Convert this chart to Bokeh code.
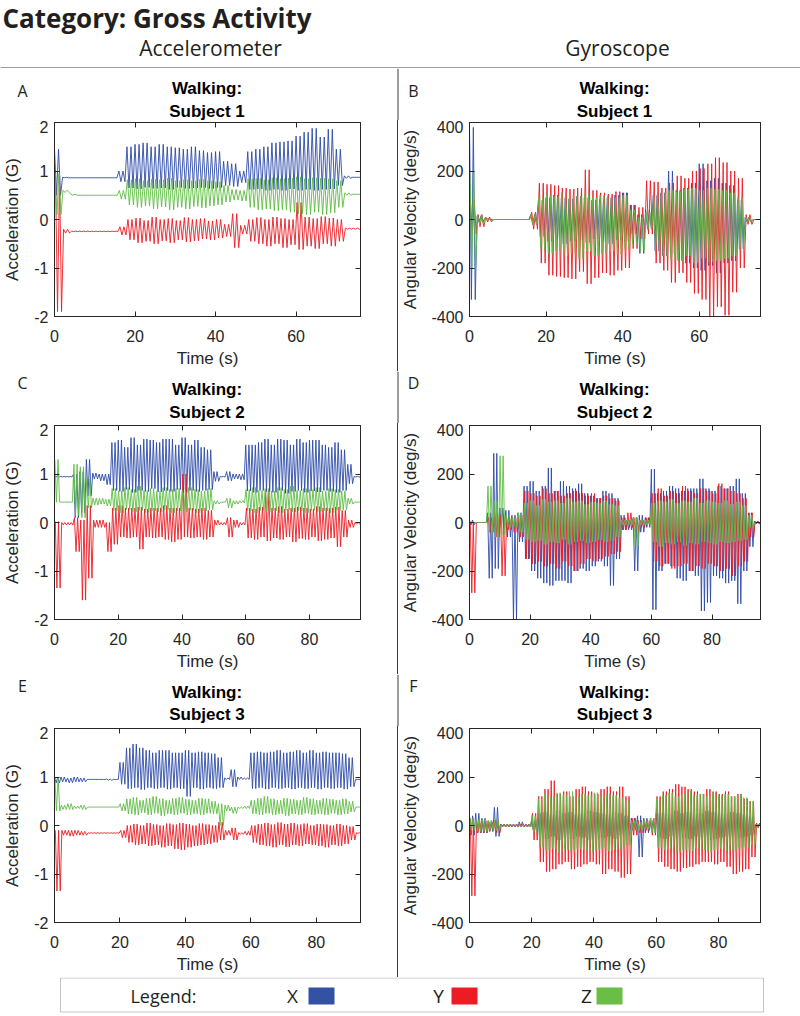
from bokeh.plotting import figure
from bokeh.layouts import column, row
from bokeh.models import Label, Range1d, FixedTicker, LinearAxis, Span, BoxAnnotation, Spacer
from bokeh.embed import file_html
from bokeh.resources import INLINE

BLUE, RED, GREEN = "#2E4BA8", "#EC1C24", "#5FBD45"
SQ_BLUE, SQ_RED, SQ_GREEN = "#3452A4", "#ED1C24", "#6ABD45"
AXC = "#262626"
RULE = "#3a3a3a"
TICK_FONT = "Liberation Sans"
HDR_FONT = "Open Sans"

# ---------------- tick values ----------------
X_TICKS_A = [0, 20, 40, 60]
X_TICKS_C = [0, 20, 40, 60, 80]
ACC_TICKS = [-2, -1, 0, 1, 2]
GYR_TICKS = [-400, -200, 0, 200, 400]
X_MAX = {"A": 76, "C": 96, "E": 93.5}
BIN = 2.0  # seconds per envelope bin (upper / lower peak read per bin)

# ---------------- Panel A: accelerometer, subject 1 (G) ----------------
A_X_hi = [1.45, 0.87, 0.86, 0.86, 0.86, 0.86, 0.86, 0.86, 1.0, 1.5, 1.55, 1.58, 1.5, 1.55, 1.5, 1.48, 1.45, 1.5, 1.42, 1.38, 1.4, 1.2, 1.15, 1.0, 1.4, 1.45, 1.5, 1.58, 1.6, 1.62, 1.72, 1.8, 1.88, 1.7, 1.86, 1.45, 0.9, 0.87]
A_X_lo = [0.5, 0.86, 0.86, 0.86, 0.86, 0.86, 0.86, 0.86, 0.78, 0.65, 0.63, 0.66, 0.64, 0.65, 0.62, 0.66, 0.64, 0.65, 0.66, 0.64, 0.66, 0.7, 0.68, 0.76, 0.62, 0.63, 0.6, 0.62, 0.6, 0.63, 0.6, 0.62, 0.6, 0.62, 0.63, 0.7, 0.85, 0.87]
A_Y_hi = [0.9, -0.2, -0.24, -0.24, -0.24, -0.24, -0.24, -0.24, -0.15, 0.0, 0.03, -0.02, 0.05, 0.0, 0.02, -0.02, 0.04, 0.0, 0.02, -0.03, 0.0, -0.1, 0.12, -0.12, 0.0, 0.04, 0.0, 0.05, 0.02, 0.0, 0.35, 0.05, 0.02, 0.06, 0.03, 0.0, -0.18, -0.18]
A_Y_lo = [-1.9, -0.28, -0.25, -0.25, -0.25, -0.25, -0.25, -0.25, -0.32, -0.42, -0.48, -0.45, -0.5, -0.44, -0.48, -0.42, -0.46, -0.44, -0.4, -0.42, -0.38, -0.35, -0.58, -0.3, -0.45, -0.5, -0.55, -0.5, -0.58, -0.52, -0.62, -0.55, -0.6, -0.5, -0.55, -0.45, -0.2, -0.2]
A_Z_hi = [0.95, 0.6, 0.52, 0.5, 0.5, 0.5, 0.5, 0.5, 0.6, 0.82, 0.84, 0.8, 0.83, 0.82, 0.85, 0.8, 0.82, 0.8, 0.83, 0.8, 0.78, 0.7, 0.62, 0.6, 0.84, 0.85, 0.82, 0.86, 0.84, 0.85, 0.88, 0.84, 0.86, 0.85, 0.84, 0.8, 0.55, 0.52]
A_Z_lo = [0.1, 0.56, 0.5, 0.5, 0.5, 0.5, 0.5, 0.5, 0.42, 0.3, 0.25, 0.28, 0.22, 0.26, 0.2, 0.25, 0.22, 0.27, 0.24, 0.28, 0.3, 0.36, 0.4, 0.38, 0.25, 0.2, 0.22, 0.18, 0.2, 0.15, 0.12, 0.1, 0.15, 0.1, 0.14, 0.25, 0.5, 0.52]

# ---------------- Panel B: gyroscope, subject 1 (deg/s) ----------------
B_X_hi = [380, 15, 5, 0, 0, 0, 0, 0, 20, 80, 90, 100, 90, 85, 95, 90, 80, 85, 90, 100, 110, 60, 20, 40, 100, 110, 200, 120, 130, 150, 230, 160, 170, 150, 140, 80, 10, 0]
B_X_lo = [-330, -10, 0, 0, 0, 0, 0, 0, -20, -70, -90, -80, -100, -90, -85, -95, -80, -90, -100, -85, -90, -60, -140, -40, -130, -150, -140, -170, -180, -200, -210, -190, -220, -180, -170, -120, -10, 0]
B_Y_hi = [80, 20, 10, 0, 0, 0, 0, 0, 30, 150, 145, 140, 130, 125, 130, 205, 120, 110, 105, 115, 110, 60, 50, 160, 155, 130, 150, 180, 170, 200, 210, 230, 255, 235, 200, 170, 20, 0]
B_Y_lo = [-60, -30, -10, 0, 0, 0, 0, 0, -40, -180, -230, -235, -240, -245, -215, -265, -240, -220, -230, -210, -200, -120, -80, -60, -180, -210, -260, -220, -260, -305, -330, -400, -360, -395, -300, -200, -20, 0]
B_Z_hi = [200, 20, 5, 0, 0, 0, 0, 0, 20, 90, 100, 95, 110, 100, 95, 105, 90, 100, 95, 90, 100, 40, 10, 30, 100, 110, 120, 115, 125, 130, 120, 130, 125, 120, 110, 90, 10, 0]
B_Z_lo = [-200, -20, -5, 0, 0, 0, 0, 0, -20, -120, -140, -130, -150, -140, -160, -130, -150, -140, -130, -145, -120, -100, -130, -40, -140, -150, -160, -170, -150, -180, -160, -175, -170, -160, -150, -120, -10, 0]

# ---------------- Panel C: accelerometer, subject 2 (G) ----------------
C_X_hi = [0.97, 0.95, 0.95, 1.0, 1.05, 1.3, 1.02, 1.0, 1.0, 1.65, 1.7, 1.55, 1.75, 1.6, 1.72, 1.7, 1.65, 1.72, 1.72, 1.6, 1.75, 1.6, 1.7, 1.55, 1.5, 1.05, 0.95, 1.05, 1.0, 1.0, 1.6, 1.6, 1.65, 1.72, 1.6, 1.72, 1.7, 1.6, 1.72, 1.65, 1.7, 1.7, 1.6, 1.55, 1.65, 1.5, 1.2, 0.95]
C_X_lo = [0.94, 0.94, 0.94, 0.1, 0.2, 0.55, 0.9, 0.86, 0.78, 0.66, 0.64, 0.68, 0.62, 0.66, 0.64, 0.7, 0.63, 0.66, 0.64, 0.68, 0.62, 0.66, 0.64, 0.66, 0.68, 0.85, 0.94, 0.86, 0.9, 0.88, 0.65, 0.62, 0.66, 0.64, 0.62, 0.66, 0.6, 0.64, 0.66, 0.62, 0.65, 0.63, 0.66, 0.64, 0.62, 0.66, 0.8, 0.94]
C_Y_hi = [0.02, 0.0, 0.0, 0.1, 0.05, 0.35, 0.05, 0.05, 0.0, 0.3, 0.35, 0.3, 0.3, 0.32, 0.28, 0.3, 0.3, 0.35, 0.3, 0.3, 1.0, 0.3, 0.28, 0.3, 0.25, 0.05, 0.0, 0.1, 0.05, 0.0, 0.3, 0.28, 0.32, 0.65, 0.3, 0.33, 0.28, 0.3, 0.32, 0.3, 0.28, 0.33, 0.3, 0.3, 0.32, 0.25, 0.05, 0.0]
C_Y_lo = [-1.35, -0.05, -0.05, -0.6, -1.6, -1.15, -0.1, -0.1, -0.6, -0.45, -0.3, -0.32, -0.3, -0.55, -0.3, -0.32, -0.3, -0.35, -0.4, -0.35, -0.3, -0.32, -0.3, -0.35, -0.3, -0.05, -0.05, -0.3, -0.1, -0.05, -0.32, -0.35, -0.3, -0.38, -0.32, -0.35, -0.3, -0.4, -0.33, -0.35, -0.3, -0.38, -0.35, -0.32, -0.5, -0.3, -0.1, -0.03]
C_Z_hi = [1.3, 0.42, 0.42, 1.2, 1.15, 0.9, 0.5, 0.5, 0.48, 0.7, 0.65, 0.72, 0.68, 0.75, 0.66, 0.7, 0.64, 0.72, 0.68, 0.7, 0.66, 0.72, 0.68, 0.65, 0.7, 0.45, 0.42, 0.5, 0.45, 0.45, 0.68, 0.72, 0.66, 0.7, 0.65, 0.72, 0.68, 0.75, 0.66, 0.7, 0.68, 0.72, 0.65, 0.7, 0.68, 0.65, 0.5, 0.42]
C_Z_lo = [0.42, 0.42, 0.42, 0.15, 0.1, 0.3, 0.36, 0.38, 0.34, 0.24, 0.2, 0.26, 0.22, 0.25, 0.2, 0.24, 0.22, 0.26, 0.2, 0.24, 0.22, 0.25, 0.2, 0.24, 0.26, 0.38, 0.42, 0.3, 0.38, 0.4, 0.24, 0.2, 0.25, 0.22, 0.24, 0.2, 0.26, 0.22, 0.24, 0.2, 0.25, 0.22, 0.24, 0.2, 0.25, 0.26, 0.38, 0.42]

# ---------------- Panel D: gyroscope, subject 2 (deg/s) ----------------
D_X_hi = [10, 0, 0, 40, 285, 60, 50, 30, 40, 150, 170, 130, 150, 225, 130, 170, 150, 140, 160, 120, 110, 100, 130, 120, 100, 30, 10, 20, 30, 20, 220, 120, 130, 150, 140, 130, 140, 140, 180, 140, 130, 150, 140, 150, 180, 120, 40, 5]
D_X_lo = [-10, 0, 0, -230, -190, -20, -60, -400, -80, -150, -200, -230, -250, -260, -240, -240, -250, -200, -190, -200, -180, -160, -180, -260, -150, -30, -30, -200, -40, -20, -360, -200, -170, -180, -230, -240, -200, -220, -365, -330, -220, -230, -250, -240, -335, -200, -100, -5]
D_Y_hi = [0, 0, 0, 20, 40, 30, 20, 20, 30, 130, 120, 110, 140, 120, 130, 110, 120, 130, 120, 110, 120, 100, 110, 100, 90, 20, 40, 20, 10, 20, 120, 140, 110, 130, 120, 150, 130, 120, 140, 130, 120, 160, 140, 130, 120, 100, 40, 5]
D_Y_lo = [-290, 0, 0, -40, -60, -220, -30, -40, -60, -150, -170, -160, -180, -170, -190, -160, -180, -200, -170, -150, -160, -150, -140, -130, -120, -30, -20, -40, -20, -10, -160, -180, -170, -190, -180, -170, -200, -180, -190, -170, -180, -200, -190, -220, -180, -160, -60, -5]
D_Z_hi = [0, 0, 0, 150, 90, 275, 30, 20, 40, 80, 90, 70, 95, 85, 90, 80, 100, 85, 90, 75, 85, 80, 90, 75, 70, 10, 10, 20, 10, 10, 80, 90, 85, 95, 80, 90, 85, 100, 80, 90, 85, 80, 90, 75, 85, 70, 30, 0]
D_Z_lo = [0, 0, 0, -40, -60, -50, -20, -20, -40, -70, -80, -75, -90, -80, -85, -70, -90, -80, -75, -85, -80, -70, -80, -75, -60, -10, -10, -95, -10, -10, -80, -100, -85, -90, -80, -95, -85, -90, -80, -85, -90, -80, -85, -80, -75, -70, -20, 0]

# ---------------- Panel E: accelerometer, subject 3 (G) ----------------
E_X_hi = [1.0, 1.0, 0.98, 1.0, 0.98, 0.95, 0.95, 0.95, 0.96, 0.95, 1.3, 1.6, 1.68, 1.6, 1.55, 1.5, 1.55, 1.55, 1.5, 1.5, 1.55, 1.5, 1.52, 1.5, 1.48, 1.4, 0.98, 1.15, 1.0, 0.98, 1.5, 1.52, 1.5, 1.52, 1.55, 1.5, 1.52, 1.55, 1.5, 1.55, 1.5, 1.52, 1.5, 1.5, 1.48, 1.4, 0.95]
E_X_lo = [0.88, 0.9, 0.88, 0.9, 0.9, 0.95, 0.95, 0.95, 0.93, 0.95, 0.85, 0.76, 0.78, 0.74, 0.78, 0.76, 0.78, 0.75, 0.78, 0.76, 0.6, 0.78, 0.75, 0.78, 0.76, 0.78, 0.95, 0.8, 0.95, 0.95, 0.76, 0.78, 0.75, 0.78, 0.76, 0.78, 0.75, 0.78, 0.76, 0.78, 0.75, 0.78, 0.76, 0.78, 0.75, 0.8, 0.95]
E_Y_hi = [-0.1, -0.1, -0.1, -0.1, -0.12, -0.15, -0.15, -0.15, -0.15, -0.15, -0.1, 0.0, 0.03, 0.0, 0.05, 0.02, 0.0, 0.04, 0.02, 0.05, 0.03, 0.0, 0.04, 0.02, 0.0, 0.07, -0.1, -0.05, -0.15, -0.12, 0.0, 0.03, 0.05, 0.02, 0.06, 0.03, 0.05, 0.02, 0.04, 0.0, 0.03, 0.02, 0.0, 0.03, 0.0, -0.02, -0.15]
E_Y_lo = [-1.35, -0.2, -0.22, -0.2, -0.2, -0.16, -0.16, -0.16, -0.16, -0.16, -0.25, -0.35, -0.4, -0.38, -0.42, -0.4, -0.45, -0.42, -0.48, -0.5, -0.45, -0.42, -0.4, -0.38, -0.35, -0.3, -0.2, -0.3, -0.18, -0.2, -0.35, -0.4, -0.42, -0.45, -0.4, -0.44, -0.4, -0.42, -0.38, -0.4, -0.42, -0.45, -0.4, -0.42, -0.38, -0.3, -0.16]
E_Z_hi = [1.0, 0.42, 0.45, 0.4, 0.42, 0.38, 0.38, 0.38, 0.38, 0.38, 0.45, 0.55, 0.58, 0.52, 0.56, 0.6, 0.55, 0.52, 0.56, 0.58, 0.54, 0.52, 0.56, 0.55, 0.5, 0.45, 0.42, 0.38, 0.38, 0.4, 0.52, 0.56, 0.6, 0.55, 0.52, 0.56, 0.54, 0.52, 0.58, 0.55, 0.52, 0.56, 0.54, 0.52, 0.55, 0.5, 0.38]
E_Z_lo = [0.3, 0.33, 0.33, 0.35, 0.33, 0.38, 0.38, 0.38, 0.38, 0.38, 0.3, 0.24, 0.22, 0.26, 0.22, 0.25, 0.2, 0.24, 0.22, 0.25, 0.22, 0.24, 0.22, 0.25, 0.24, 0.0, 0.3, 0.25, 0.35, 0.35, 0.24, 0.22, 0.25, 0.22, 0.24, 0.2, 0.24, 0.22, 0.25, 0.22, 0.24, 0.22, 0.25, 0.22, 0.24, 0.28, 0.38]

# ---------------- Panel F: gyroscope, subject 3 (deg/s) ----------------
F_X_hi = [40, 50, 30, 20, 75, 5, 5, 5, 15, 5, 20, 50, 55, 45, 60, 50, 55, 45, 50, 60, 55, 50, 45, 55, 50, 40, 30, 40, 30, 20, 50, 55, 45, 60, 50, 55, 45, 50, 60, 55, 50, 45, 55, 50, 45, 40, 5]
F_X_lo = [-40, -30, -30, -25, -45, -5, -5, -5, -5, -5, -20, -50, -55, -45, -60, -50, -55, -45, -50, -60, -55, -50, -45, -55, -50, -40, -20, -130, -30, -20, -50, -55, -45, -60, -50, -55, -45, -50, -60, -55, -50, -45, -55, -50, -45, -40, -5]
F_Y_hi = [30, 20, 20, 15, 20, 5, 5, 5, 5, 5, 50, 120, 150, 185, 130, 140, 120, 150, 160, 140, 130, 150, 160, 140, 160, 120, 30, 20, 20, 30, 120, 140, 150, 170, 160, 150, 140, 130, 150, 140, 130, 140, 120, 130, 110, 100, 10]
F_Y_lo = [-290, -30, -30, -20, -30, -5, -5, -5, -5, -5, -60, -150, -190, -180, -160, -150, -180, -170, -160, -150, -160, -200, -180, -190, -215, -200, -40, -30, -20, -40, -150, -170, -180, -190, -175, -170, -160, -150, -150, -160, -150, -170, -200, -190, -180, -130, -10]
F_Z_hi = [30, 25, 25, 20, 25, 3, 3, 3, 3, 3, 40, 110, 130, 120, 135, 125, 140, 120, 130, 125, 135, 120, 130, 125, 115, 100, 20, 15, 20, 30, 110, 125, 135, 120, 130, 140, 125, 130, 120, 135, 125, 130, 120, 125, 115, 100, 5]
F_Z_lo = [-20, -25, -25, -20, -20, -3, -3, -3, -3, -3, -30, -90, -100, -95, -110, -100, -105, -95, -100, -110, -100, -95, -105, -100, -95, -80, -20, -20, -15, -30, -90, -100, -95, -110, -100, -105, -95, -100, -110, -100, -95, -105, -100, -95, -90, -80, -5]


def zigzag(hi, lo, phase):
    """Two peaks per bin: the bin's upper and lower read values alternate."""
    t, v = [], []
    for k, (h, l) in enumerate(zip(hi, lo)):
        t0 = k * BIN + phase
        t += [t0, t0 + BIN / 4, t0 + BIN / 2, t0 + 3 * BIN / 4]
        v += [h, l, h, l]
    t.append(len(hi) * BIN + phase)
    v.append(lo[-1])
    return t, v


FRAME_H = 194
STRIP_H = 52          # title strip above every row of panels
PLOT_H = 251          # plot figure: 2 top + 194 frame + 55 bottom
TOP_B = 2
PAGE_W = 800
DIV_X = 397           # x of the vertical rule


def style_axis(ax, ticks, show, standoff=6, lab_standoff=4):
    ax.ticker = FixedTicker(ticks=ticks)
    ax.major_label_overrides = {tk: str(tk) for tk in ticks}
    ax.minor_tick_line_color = None
    ax.major_tick_in = 5
    ax.major_tick_out = 0
    ax.major_tick_line_color = AXC
    ax.axis_line_color = AXC
    ax.major_label_text_font = TICK_FONT
    ax.major_label_standoff = standoff
    if show:
        ax.major_label_text_font_size = "16px"
        ax.major_label_text_color = AXC
        ax.axis_label_text_font = TICK_FONT
        ax.axis_label_text_font_size = "17px"
        ax.axis_label_text_font_style = "normal"
        ax.axis_label_text_color = AXC
        ax.axis_label_standoff = lab_standoff
    else:
        ax.major_label_text_font_size = "0px"
        ax.major_label_text_color = None


def blank(width, height, bg="white"):
    f = figure(width=width, height=height, x_range=Range1d(0, width), y_range=Range1d(0, height),
               toolbar_location=None, output_backend="svg", min_border=0,
               x_axis_type=None, y_axis_type=None, outline_line_color=None,
               background_fill_color=bg, border_fill_color=bg)
    f.grid.visible = False
    return f


def make_plot(xmax, xticks, yrange, yticks, ylabel, series, width, b_left, b_right, ylab_standoff):
    p = figure(width=width, height=PLOT_H, x_range=Range1d(0, xmax), y_range=Range1d(*yrange),
               toolbar_location=None, output_backend="svg",
               min_border_left=b_left, min_border_right=b_right,
               min_border_top=TOP_B, min_border_bottom=PLOT_H - TOP_B - FRAME_H,
               x_axis_label="Time (s)", y_axis_label=ylabel)
    p.xgrid.visible = False
    p.ygrid.visible = False
    p.outline_line_color = AXC
    p.background_fill_color = "white"
    p.border_fill_color = "white"
    for (hi, lo), color, ph in zip(series, (BLUE, RED, GREEN), (0.0, 0.25, 0.1)):
        t, v = zigzag(hi, lo, ph)
        p.line(t, v, line_color=color, line_width=1, line_alpha=0.9)
    style_axis(p.xaxis[0], xticks, True, standoff=13, lab_standoff=4)
    style_axis(p.yaxis[0], yticks, True, standoff=6, lab_standoff=ylab_standoff)
    top = LinearAxis()
    p.add_layout(top, "above")
    style_axis(top, xticks, False, standoff=0)
    right = LinearAxis()
    p.add_layout(right, "right")
    style_axis(right, yticks, False, standoff=0)
    return p


LW, LBL, LBR = DIV_X, 53, 37              # left column: frame 53 -> 360
RW, RBL, RBR = PAGE_W - DIV_X - 1, 70, 40  # right column: frame 468 -> 760
ACC_LABEL = "Acceleration (G)"
GYR_LABEL = "Angular Velocity (deg/s)"
L_TITLE_X = LBL + (LW - LBL - LBR) / 2
R_TITLE_X = DIV_X + 1 + RBL + (RW - RBL - RBR) / 2


def make_strip(letters, subject, letter_y, walk_y, subj_y):
    s = blank(PAGE_W, STRIP_H)
    s.add_layout(Span(location=DIV_X + 0.5, dimension="height", line_color=RULE, line_width=1))
    for letter, lx, tx in ((letters[0], 22, L_TITLE_X), (letters[1], 413, R_TITLE_X)):
        s.add_layout(Label(x=lx, y=letter_y, text=letter, text_font=HDR_FONT,
                           text_font_size="16px", text_color="#231f20",
                           text_align="center", text_baseline="middle"))
        s.add_layout(Label(x=tx, y=walk_y, text="Walking:", text_font=TICK_FONT,
                           text_font_size="17px", text_font_style="bold", text_color="black",
                           text_align="center", text_baseline="middle"))
        s.add_layout(Label(x=tx, y=subj_y, text=subject, text_font=TICK_FONT,
                           text_font_size="17px", text_font_style="bold", text_color="black",
                           text_align="center", text_baseline="middle"))
    return s


rows_spec = [
    # letters, subject, x max, x ticks, data left, data right, letter_y, walk_y, subj_y
    (("A", "B"), "Subject 1", X_MAX["A"], X_TICKS_A,
     [(A_X_hi, A_X_lo), (A_Y_hi, A_Y_lo), (A_Z_hi, A_Z_lo)],
     [(B_X_hi, B_X_lo), (B_Y_hi, B_Y_lo), (B_Z_hi, B_Z_lo)], 30, 32, 9.5),
    (("C", "D"), "Subject 2", X_MAX["C"], X_TICKS_C,
     [(C_X_hi, C_X_lo), (C_Y_hi, C_Y_lo), (C_Z_hi, C_Z_lo)],
     [(D_X_hi, D_X_lo), (D_Y_hi, D_Y_lo), (D_Z_hi, D_Z_lo)], 41, 34, 11.5),
    (("E", "F"), "Subject 3", X_MAX["E"], X_TICKS_C,
     [(E_X_hi, E_X_lo), (E_Y_hi, E_Y_lo), (E_Z_hi, E_Z_lo)],
     [(F_X_hi, F_X_lo), (F_Y_hi, F_Y_lo), (F_Z_hi, F_Z_lo)], 41, 34, 12),
]

# ---------------- header ----------------
hdr = blank(PAGE_W, 68)
hdr.add_layout(Label(x=2, y=51, text="Category: Gross Activity", text_font=HDR_FONT,
                     text_font_size="26px", text_font_style="bold", text_color="#231f20",
                     text_align="left", text_baseline="alphabetic"))
hdr.add_layout(Label(x=210, y=21, text="Accelerometer", text_font=HDR_FONT,
                     text_font_size="21px", text_color="#231f20",
                     text_align="center", text_baseline="alphabetic"))
hdr.add_layout(Label(x=617, y=21, text="Gyroscope", text_font=HDR_FONT,
                     text_font_size="21px", text_color="#231f20",
                     text_align="center", text_baseline="alphabetic"))
hdr.add_layout(Span(location=0.5, dimension="width", line_color=RULE, line_width=1))

items = [hdr]
for letters, subj, xmax, xt, dataL, dataR, ly, wy, sy in rows_spec:
    items.append(make_strip(letters, subj, ly, wy, sy))
    pl = make_plot(xmax, xt, (-2, 2), ACC_TICKS, ACC_LABEL, dataL, LW, LBL, LBR, 9)
    pr = make_plot(xmax, xt, (-400, 400), GYR_TICKS, GYR_LABEL, dataR, RW, RBL, RBR, 8)
    rule = Spacer(width=1, height=PLOT_H, styles={"background-color": RULE})
    items.append(row(pl, rule, pr))

# ---------------- legend strip ----------------
leg = blank(PAGE_W, 39)
leg.add_layout(BoxAnnotation(left=60, right=763, bottom=4.5, top=38.5, fill_color=None,
                             fill_alpha=0, line_color=RULE, line_width=1))
leg.add_layout(Label(x=163, y=21, text="Legend:", text_font=HDR_FONT, text_font_size="18px",
                     text_color="#231f20", text_align="center", text_baseline="middle"))
for name, cx, sq_left, col in (("X", 292, 308, SQ_BLUE), ("Y", 438, 451, SQ_RED), ("Z", 586, 596, SQ_GREEN)):
    leg.add_layout(Label(x=cx, y=21, text=name, text_font=HDR_FONT, text_font_size="19px",
                         text_color="#231f20", text_align="center", text_baseline="middle"))
    leg.add_layout(BoxAnnotation(left=sq_left, right=sq_left + 26, bottom=12, top=29,
                                 fill_color=col, fill_alpha=1, line_color=None))
items.append(leg)

layout = column(*items)

open("out.html", "w").write(file_html(layout, INLINE))
